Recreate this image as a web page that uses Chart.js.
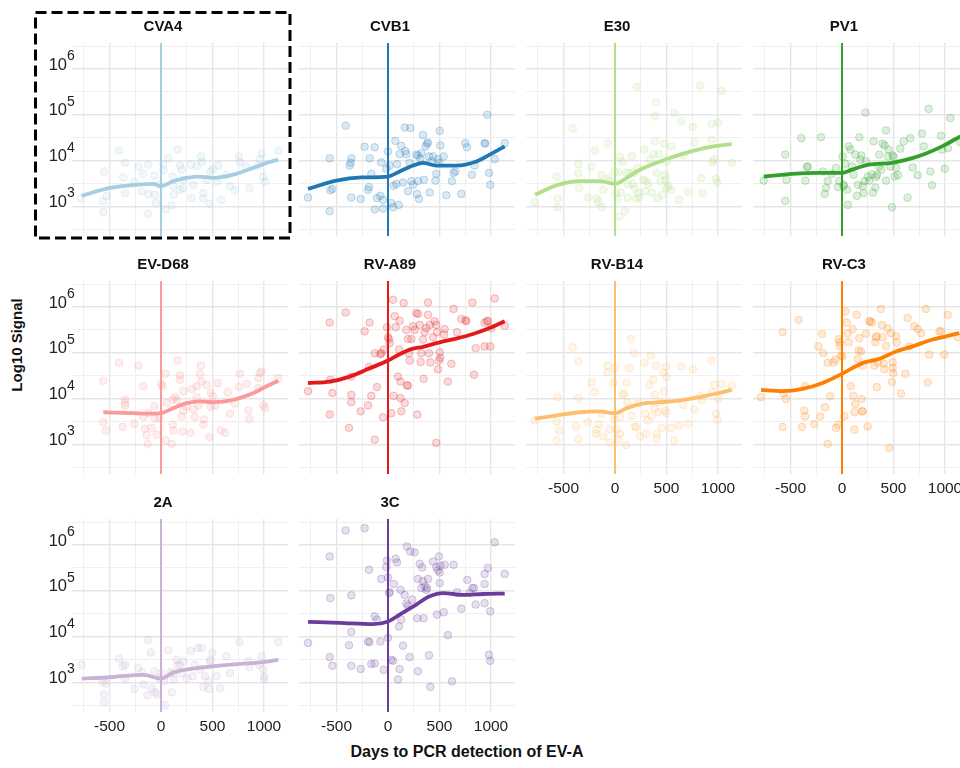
<!DOCTYPE html>
<html>
<head>
<meta charset="utf-8">
<script src="https://cdn.jsdelivr.net/npm/chart.js@4.4.1/dist/chart.umd.min.js"></script>
<style>
html, body { margin: 0; padding: 0; width: 960px; height: 768px; overflow: hidden; background: #fff; }
body { position: relative; font-family: "Liberation Sans", Arial, sans-serif; }
canvas { position: absolute; }
.lab { position: absolute; font-weight: bold; color: #111; white-space: nowrap; line-height: 1; transform: translate(-50%, -50%); }
#ylab { left: 16px; top: 345px; font-size: 15px; transform: translate(-50%, -50%) rotate(-90deg); }
#xlab { left: 467px; top: 752px; font-size: 16px; }
#box { position: absolute; left: 0; top: 0; z-index: 5; }
</style>
</head>
<body>
<div id="ylab" class="lab">Log10 Signal</div>
<div id="xlab" class="lab">Days to PCR detection of EV-A</div>
<svg id="box" width="960" height="768">
  <rect x="35.5" y="12.5" width="254.5" height="225.5" fill="none" stroke="#000" stroke-width="3" stroke-dasharray="11 5"/>
</svg>
<script>
// Facets, in reading order
const panelNames = ['CVA4', 'CVB1', 'E30', 'PV1', 'EV-D68', 'RV-A89', 'RV-B14', 'RV-C3', '2A', '3C'];
const panelColors = ['#a6cee3', '#1f78b4', '#b2df8a', '#33a02c', '#fb9a99', '#e31a1c', '#fdbf6f', '#ff7f00', '#cab2d6', '#6a3d9a'];

// Axes (y is log10 of the signal)
const xRange = [-864, 1233];
const yRange = [2.35, 6.57];
const xTicks = [-750, -500, -250, 0, 250, 500, 750, 1000];
const xLabelTicks = [-500, 0, 500, 1000];
const yTicks = [2.5, 3, 3.5, 4, 4.5, 5, 5.5, 6, 6.5];
const yLabelPowers = [3, 4, 5, 6];

// [days, log10 signal]
const cva4Points = [[-777,3.17],[-553,3.76],[-560,3.11],[-560,2.87],[-527,3.22],[-408,4.22],[-349,3.95],[-366,3.63],[-349,3.29],[-259,3.54],[-220,3.87],[-188,3.33],[-172,3.71],[-123,3.91],[-123,3.27],[-129,2.83],[-65,3.67],[-58,3.25],[-49,3.07],[-16,3.47],[23,3.91],[23,3.79],[45,2.93],[71,4.05],[104,3.02],[113,3.65],[120,3.44],[120,3.25],[162,4.24],[184,3.89],[201,3.80],[184,3.36],[210,3.40],[217,3.58],[288,3.91],[298,3.18],[314,3.47],[346,3.87],[388,4.09],[395,3.97],[411,3.29],[411,3.17],[443,3.58],[469,3.06],[482,3.76],[502,3.81],[547,3.54],[557,3.89],[582,3.14],[637,3.68],[670,3.44],[718,3.35],[757,4.09],[767,3.97],[825,3.87],[858,3.39],[945,3.89],[961,4.03],[977,4.15],[993,3.65],[1010,3.54],[1139,4.22]];
const cva4Trend = [[-770,3.23],[-495,3.40],[-252,3.47],[-74,3.49],[0,3.44],[120,3.55],[249,3.62],[362,3.65],[508,3.62],[702,3.69],[896,3.84],[1026,3.95],[1139,4.02]];

const cvb1Points = [[-777,3.19],[-566,4.05],[-560,3.35],[-540,3.38],[-566,2.89],[-411,4.76],[-356,4.05],[-372,3.89],[-362,3.95],[-356,3.19],[-265,3.16],[-227,4.30],[-184,3.42],[-178,4.05],[-194,3.36],[-162,3.71],[-129,4.29],[-129,2.93],[-107,3.18],[-74,3.23],[-65,3.96],[-49,3.14],[-49,2.95],[-16,3.82],[0,4.20],[16,3.89],[32,3.07],[49,2.98],[55,3.45],[71,4.43],[81,3.49],[87,3.92],[104,3.03],[113,4.14],[129,4.32],[146,3.52],[162,4.72],[168,4.21],[178,4.14],[194,3.33],[210,3.95],[217,4.71],[227,3.55],[243,3.47],[275,4.13],[282,3.27],[291,3.55],[291,4.11],[301,3.16],[314,4.05],[324,4.16],[340,4.56],[349,3.58],[366,4.31],[379,4.37],[388,4.40],[398,4.09],[405,3.30],[421,3.98],[437,4.09],[460,3.56],[469,3.71],[485,4.03],[495,3.95],[502,4.65],[508,4.33],[540,4.09],[566,3.24],[621,3.55],[637,3.73],[654,3.76],[712,3.27],[751,4.38],[767,4.29],[815,3.69],[841,3.89],[938,4.38],[944,4.37],[964,5.00],[981,3.73],[993,3.47],[1036,4.03],[1133,4.38]];
const cvb1Trend = [[-777,3.38],[-502,3.56],[-259,3.63],[0,3.65],[113,3.76],[243,3.89],[340,3.95],[469,3.89],[663,3.89],[858,3.98],[987,4.13],[1133,4.31]];

const e30Points = [[-777,3.09],[-566,3.65],[-557,3.17],[-560,2.98],[-411,4.70],[-356,3.92],[-356,3.73],[-349,3.40],[-259,3.19],[-227,3.86],[-194,4.22],[-178,3.17],[-162,3.09],[-129,2.98],[-129,3.69],[-113,3.36],[-71,4.37],[-65,3.61],[-49,3.55],[-6,3.76],[10,3.29],[23,3.16],[32,3.74],[42,2.77],[49,4.08],[55,3.30],[74,3.97],[97,2.89],[107,3.74],[123,3.18],[129,3.47],[139,3.73],[162,4.09],[172,3.49],[184,3.73],[194,3.38],[204,3.16],[210,5.61],[217,3.84],[227,3.29],[236,3.19],[275,3.58],[285,4.24],[291,3.33],[301,3.55],[324,3.49],[340,4.02],[356,3.30],[372,4.14],[388,4.97],[388,4.42],[398,5.27],[405,3.73],[414,3.18],[430,4.14],[443,3.55],[460,3.25],[476,4.37],[485,3.69],[492,3.58],[502,3.98],[502,3.40],[518,3.44],[544,3.36],[550,4.31],[576,5.04],[621,3.14],[641,4.86],[663,4.11],[712,3.31],[754,4.73],[770,4.40],[825,5.64],[835,3.61],[851,3.29],[938,4.81],[938,4.46],[945,3.96],[964,4.03],[981,3.60],[993,3.52],[1003,4.83],[1036,5.53],[1133,3.95]];
const e30Trend = [[-777,3.25],[-566,3.46],[-340,3.55],[-146,3.55],[0,3.49],[113,3.62],[243,3.80],[437,3.98],[631,4.13],[825,4.25],[987,4.32],[1133,4.36]];

const pv1Points = [[-760,3.56],[-550,4.13],[-540,3.58],[-550,3.12],[-395,4.49],[-356,3.56],[-340,3.86],[-333,3.87],[-204,4.51],[-184,3.76],[-168,3.27],[-155,3.40],[-139,3.55],[-97,3.71],[-58,3.84],[-39,3.42],[-26,3.55],[6,4.09],[16,3.47],[16,3.44],[32,3.93],[49,3.36],[58,3.03],[65,4.31],[81,4.24],[97,3.87],[113,3.69],[129,4.13],[146,3.23],[155,3.47],[168,4.51],[178,4.02],[188,4.11],[201,3.44],[210,3.29],[220,3.55],[227,5.05],[233,3.98],[252,3.65],[265,3.56],[291,3.70],[301,3.30],[307,4.42],[324,3.41],[330,3.64],[340,3.69],[356,3.87],[362,4.13],[382,3.80],[395,4.37],[414,4.33],[427,4.66],[427,3.56],[447,4.09],[453,4.24],[469,3.87],[485,2.98],[492,4.11],[502,4.08],[511,3.65],[524,3.84],[544,3.68],[566,4.26],[599,4.42],[637,3.19],[663,4.49],[686,3.85],[735,3.68],[777,4.59],[793,4.31],[841,5.13],[858,3.76],[874,3.46],[961,4.54],[971,4.24],[997,3.82],[1029,4.27],[1052,4.93],[1149,4.40]];
const pv1Trend = [[-760,3.65],[-485,3.71],[-227,3.73],[0,3.73],[97,3.80],[259,3.91],[485,3.95],[647,4.03],[809,4.15],[971,4.31],[1149,4.53]];

const evd68Points = [[-560,4.39],[-560,3.48],[-534,3.30],[-408,4.78],[-372,3.38],[-349,3.98],[-349,3.90],[-349,3.85],[-259,3.45],[-220,4.72],[-172,4.27],[-172,3.60],[-155,3.34],[-139,3.20],[-123,3.68],[-129,3.01],[-91,3.36],[-65,3.83],[-58,3.56],[-42,3.21],[-16,3.57],[0,4.32],[16,4.27],[45,4.54],[45,3.09],[55,3.90],[104,3.01],[113,3.98],[113,3.43],[120,3.30],[136,4.03],[152,3.97],[162,4.83],[184,4.51],[184,4.41],[201,3.61],[207,3.28],[217,4.16],[217,3.74],[249,3.83],[288,3.25],[298,4.21],[314,3.76],[330,3.59],[346,4.03],[346,4.27],[362,3.85],[379,4.54],[388,4.72],[395,4.37],[411,3.43],[417,3.54],[443,4.29],[469,3.16],[482,4.12],[485,3.81],[502,4.05],[524,3.85],[550,4.34],[582,3.30],[621,3.25],[647,4.14],[670,3.67],[718,3.89],[757,4.25],[767,4.54],[832,4.32],[848,3.74],[858,3.55],[945,4.45],[961,4.56],[977,4.59],[945,4.23],[993,3.86],[1010,3.79],[1139,4.45]];
const evd68Trend = [[-560,3.70],[-269,3.68],[-74,3.67],[0,3.68],[120,3.79],[249,3.90],[379,3.94],[508,3.92],[702,3.97],[896,4.12],[1026,4.27],[1139,4.39]];

const rva89Points = [[-777,4.16],[-566,5.66],[-560,4.41],[-540,4.12],[-566,3.65],[-411,5.88],[-379,3.36],[-356,4.48],[-356,4.08],[-356,3.92],[-265,3.72],[-227,5.47],[-194,3.85],[-184,4.69],[-178,5.66],[-162,4.06],[-129,3.10],[-107,4.25],[-129,4.99],[-74,4.97],[-65,4.99],[-49,3.59],[-42,5.07],[-10,5.56],[0,5.34],[10,5.30],[16,5.21],[32,3.68],[49,6.16],[55,4.06],[65,5.80],[74,5.56],[97,4.48],[107,5.07],[113,5.70],[120,4.37],[120,4.01],[129,3.72],[152,6.09],[162,3.90],[184,4.29],[194,4.28],[178,5.50],[194,5.30],[204,4.99],[210,4.83],[227,5.30],[243,5.58],[259,5.50],[275,5.87],[285,3.65],[291,5.85],[307,5.61],[317,4.80],[324,4.99],[340,5.29],[346,4.43],[356,5.45],[372,5.54],[388,6.10],[388,5.83],[398,4.99],[405,5.61],[411,4.79],[437,5.34],[453,5.69],[469,5.61],[469,3.03],[476,5.45],[485,4.64],[495,4.83],[502,5.01],[508,4.89],[544,5.40],[550,5.52],[582,4.37],[615,4.76],[637,5.96],[670,5.45],[712,5.74],[754,5.71],[760,5.69],[819,6.10],[835,4.52],[851,5.10],[938,5.66],[938,5.14],[961,5.69],[971,5.70],[993,5.14],[1003,5.54],[1036,6.19],[1133,5.59]];
const rva89Trend = [[-777,4.34],[-566,4.37],[-372,4.48],[-178,4.66],[0,4.83],[113,4.97],[227,5.08],[340,5.13],[502,5.23],[663,5.31],[825,5.41],[987,5.54],[1133,5.69]];

const rvb14Points = [[-777,3.52],[-560,4.03],[-566,3.50],[-540,3.30],[-566,3.09],[-411,5.12],[-356,4.81],[-356,4.01],[-379,3.38],[-356,3.11],[-265,3.48],[-227,4.35],[-194,4.14],[-178,3.32],[-184,3.23],[-155,3.44],[-129,3.67],[-113,3.17],[-71,4.72],[-74,4.57],[-55,3.33],[-49,3.04],[-16,4.34],[-6,3.54],[0,4.67],[16,3.33],[32,3.10],[49,3.59],[49,3.23],[74,4.08],[91,4.11],[107,2.98],[113,4.35],[120,3.92],[139,4.67],[155,5.30],[162,3.62],[188,4.99],[194,3.39],[204,3.37],[227,3.89],[243,3.17],[285,4.78],[291,3.67],[301,3.23],[317,3.52],[333,4.30],[346,4.94],[356,3.61],[372,4.41],[382,3.79],[388,4.08],[398,4.72],[405,3.23],[405,3.11],[421,3.70],[437,3.92],[453,3.36],[469,4.57],[476,4.16],[485,3.73],[495,4.70],[502,4.47],[502,3.68],[544,3.36],[576,3.08],[621,3.41],[641,4.70],[663,3.86],[712,3.45],[754,4.64],[770,3.76],[825,4.05],[841,3.96],[938,4.83],[945,4.14],[964,4.30],[981,3.67],[993,3.54],[1003,3.99],[1036,4.32],[1133,4.28]];
const rvb14Trend = [[-777,3.56],[-566,3.63],[-340,3.70],[-146,3.72],[0,3.68],[113,3.79],[243,3.88],[437,3.92],[599,3.95],[793,4.02],[987,4.11],[1133,4.19]];

const rvc3Points = [[-786,4.03],[-576,5.45],[-566,4.11],[-544,3.99],[-576,3.38],[-421,5.72],[-388,3.38],[-366,3.74],[-359,3.61],[-359,4.27],[-269,3.44],[-230,5.14],[-210,3.61],[-194,5.41],[-181,4.99],[-165,3.81],[-139,4.78],[-139,3.01],[-116,4.05],[-84,4.79],[-58,3.36],[-65,4.85],[-36,3.43],[-32,5.30],[-26,5.15],[-19,5.23],[-10,4.94],[6,4.92],[23,3.61],[32,5.91],[45,5.66],[55,5.42],[65,5.23],[87,4.27],[104,5.52],[110,4.06],[120,3.70],[120,3.32],[129,3.88],[142,5.83],[152,4.86],[162,5.05],[168,5.32],[184,5.03],[191,3.99],[194,3.72],[201,3.72],[201,4.72],[233,5.42],[249,3.39],[265,5.69],[275,5.69],[291,5.66],[314,4.72],[324,5.23],[330,5.34],[337,5.36],[337,4.25],[346,4.79],[379,5.96],[388,5.61],[395,5.34],[405,4.76],[411,4.64],[427,5.15],[443,5.53],[460,2.92],[476,5.43],[485,4.36],[492,4.79],[492,4.67],[498,4.56],[524,5.36],[531,5.23],[573,4.11],[615,4.54],[637,5.76],[654,5.14],[702,5.58],[735,5.52],[767,5.43],[815,5.96],[832,4.35],[848,4.96],[945,5.47],[961,5.47],[993,4.96],[1026,5.83],[1123,5.34]];
const rvc3Trend = [[-786,4.19],[-576,4.16],[-382,4.21],[-188,4.34],[0,4.54],[104,4.67],[217,4.79],[362,4.87],[524,5.03],[686,5.14],[880,5.29],[1010,5.36],[1139,5.43]];

const twoAPoints = [[-770,3.38],[-566,3.01],[-553,2.74],[-553,2.56],[-534,2.97],[-408,3.52],[-372,3.35],[-349,3.38],[-349,3.08],[-259,2.85],[-220,3.31],[-178,3.22],[-172,2.95],[-133,2.71],[-123,3.93],[-100,3.65],[-91,2.87],[-65,3.24],[-58,2.78],[-42,2.73],[-16,3.09],[6,3.20],[32,3.02],[39,2.50],[71,3.70],[94,3.22],[104,2.78],[120,3.19],[126,3.06],[152,3.49],[159,3.37],[184,3.38],[201,3.20],[217,3.46],[249,3.08],[288,3.68],[307,3.13],[330,3.38],[356,3.75],[379,3.28],[395,3.75],[411,2.90],[427,3.13],[460,3.02],[466,2.85],[476,3.46],[482,3.49],[498,3.65],[540,3.13],[573,2.87],[637,3.57],[670,3.20],[760,3.88],[848,3.46],[858,3.33],[955,3.38],[977,3.57],[993,3.29],[1003,3.13],[1000,3.07],[1139,3.88]];
const twoATrend = [[-770,3.08],[-495,3.11],[-172,3.16],[0,3.08],[120,3.21],[346,3.31],[508,3.35],[767,3.40],[993,3.44],[1139,3.49]];

const threeCPoints = [[-777,3.86],[-566,3.55],[-540,3.36],[-566,5.75],[-560,4.84],[-411,6.32],[-379,3.81],[-356,4.10],[-356,4.90],[-356,3.36],[-265,3.29],[-227,6.37],[-194,3.89],[-184,5.46],[-178,3.88],[-162,3.40],[-129,4.44],[-129,3.41],[-107,4.37],[-74,3.89],[-65,5.26],[-42,3.27],[-16,5.52],[-10,5.66],[0,3.97],[0,5.29],[10,4.95],[16,4.97],[32,3.49],[49,3.47],[55,5.15],[74,5.70],[87,5.62],[97,3.06],[107,4.22],[113,3.29],[123,5.02],[129,4.37],[146,3.80],[162,4.91],[178,4.72],[184,5.97],[194,4.67],[210,3.55],[217,5.86],[236,4.81],[259,5.84],[285,4.40],[291,5.26],[291,3.24],[307,5.59],[324,5.06],[333,5.51],[340,5.21],[346,4.40],[356,5.10],[372,5.02],[379,5.06],[388,5.26],[398,3.59],[411,2.90],[437,5.64],[469,5.52],[476,4.48],[485,5.45],[495,5.75],[502,5.40],[502,5.17],[508,5.55],[540,4.53],[550,5.57],[582,4.03],[621,3.02],[637,5.57],[670,4.97],[712,4.61],[770,5.24],[793,4.95],[819,5.06],[835,5.06],[851,4.70],[938,5.37],[938,5.15],[938,4.73],[971,5.50],[981,3.60],[993,3.47],[993,4.55],[1036,6.06],[1133,5.37]];
const threeCTrend = [[-777,4.32],[-469,4.30],[-146,4.27],[0,4.33],[113,4.48],[275,4.70],[405,4.88],[534,4.95],[728,4.91],[922,4.93],[1133,4.94]];

const pointSets = [cva4Points, cvb1Points, e30Points, pv1Points, evd68Points, rva89Points, rvb14Points, rvc3Points, twoAPoints, threeCPoints];
const trendSets = [cva4Trend, cvb1Trend, e30Trend, pv1Trend, evd68Trend, rva89Trend, rvb14Trend, rvc3Trend, twoATrend, threeCTrend];

const FONT = '"Liberation Sans", Arial, sans-serif';
const plotW = 216, plotH = 193;
const pad = { left: 40, right: 6, top: 32 };
const xAxisRoom = 28;   // room under each panel for the day labels

function rgba(hex, a) {
    const n = parseInt(hex.slice(1), 16);
    return `rgba(${(n >> 16) & 255},${(n >> 8) & 255},${n & 255},${a})`;
}

function makePanel(i) {
    const row = Math.floor(i / 4);
    const col = i % 4;
    const color = panelColors[i];
    const showY = col === 0;
    const showX = i >= 6;

    const canvas = document.createElement('canvas');
    canvas.width = plotW + pad.left + pad.right;
    canvas.height = plotH + pad.top + xAxisRoom;
    canvas.style.left = (72 + 227 * col - pad.left) + 'px';
    canvas.style.top = (43 + 238 * row - pad.top) + 'px';
    document.body.appendChild(canvas);

    // title, zero line and the 10^n labels
    const panelPlugin = {
        id: 'panel' + i,
        beforeDatasetsDraw(chart) {
            const { ctx, chartArea, scales } = chart;
            const x0 = Math.round(scales.x.getPixelForValue(0));
            ctx.save();
            ctx.strokeStyle = color;
            ctx.lineWidth = 2;
            ctx.beginPath();
            ctx.moveTo(x0, chartArea.top);
            ctx.lineTo(x0, chartArea.bottom);
            ctx.stroke();
            ctx.restore();
        },
        afterDraw(chart) {
            const { ctx, chartArea, scales } = chart;
            ctx.save();
            ctx.fillStyle = '#111';
            ctx.font = 'bold 15px ' + FONT;
            ctx.textAlign = 'center';
            ctx.textBaseline = 'middle';
            ctx.fillText(panelNames[i], scales.x.getPixelForValue(0) + 2, chartArea.top - 16.5);
            if (showY) {
                ctx.fillStyle = '#222';
                ctx.textBaseline = 'alphabetic';
                yLabelPowers.forEach(p => {
                    const py = scales.y.getPixelForValue(p);
                    ctx.font = '16.5px ' + FONT;
                    ctx.textAlign = 'right';
                    ctx.fillText('10', chartArea.left - 5, py + 0.5);
                    ctx.font = '14px ' + FONT;
                    ctx.textAlign = 'left';
                    ctx.fillText(String(p), chartArea.left - 5, py - 9);
                });
            }
            ctx.restore();
        }
    };

    new Chart(canvas, {
        type: 'scatter',
        data: {
            datasets: [{
                type: 'line',
                data: trendSets[i].map(([x, y]) => ({ x, y })),
                borderColor: color,
                borderWidth: 3.8,
                pointRadius: 0,
                fill: false,
                tension: 0.4,
                cubicInterpolationMode: 'monotone'
            }, {
                data: pointSets[i].map(([x, y]) => ({ x, y })),
                pointRadius: 3.8,
                pointBackgroundColor: rgba(color, 0.16),
                pointBorderColor: rgba(color, 0.26),
                pointBorderWidth: 1
            }]
        },
        options: {
            responsive: false,
            animation: false,
            devicePixelRatio: 1,
            layout: { padding: { left: pad.left, right: pad.right, top: pad.top, bottom: 0 } },
            plugins: { legend: { display: false }, tooltip: { enabled: false } },
            scales: {
                x: {
                    type: 'linear',
                    min: xRange[0],
                    max: xRange[1],
                    afterBuildTicks: s => { s.ticks = xTicks.map(v => ({ value: v })); },
                    afterFit: s => { s.height = xAxisRoom; },
                    border: { display: false },
                    grid: {
                        drawTicks: false,
                        color: c => (c.tick && c.tick.value % 500 === 0) ? '#e6e6e6' : '#efefef',
                        lineWidth: c => (c.tick && c.tick.value % 500 === 0) ? 1.4 : 1
                    },
                    ticks: {
                        display: showX,
                        autoSkip: false,
                        maxRotation: 0,
                        padding: 5,
                        color: '#222',
                        font: { size: 15.5, family: FONT },
                        callback: v => xLabelTicks.includes(v) ? String(v) : ''
                    }
                },
                y: {
                    type: 'linear',
                    min: yRange[0],
                    max: yRange[1],
                    afterBuildTicks: s => { s.ticks = yTicks.map(v => ({ value: v })); },
                    afterFit: s => { s.width = 0; },
                    border: { display: false },
                    grid: {
                        drawTicks: false,
                        color: c => (c.tick && Number.isInteger(c.tick.value)) ? '#e6e6e6' : '#efefef',
                        lineWidth: c => (c.tick && Number.isInteger(c.tick.value)) ? 1.4 : 1
                    },
                    ticks: { display: false }
                }
            }
        },
        plugins: [panelPlugin]
    });
}

panelNames.forEach((name, i) => makePanel(i));
</script>
</body>
</html>
